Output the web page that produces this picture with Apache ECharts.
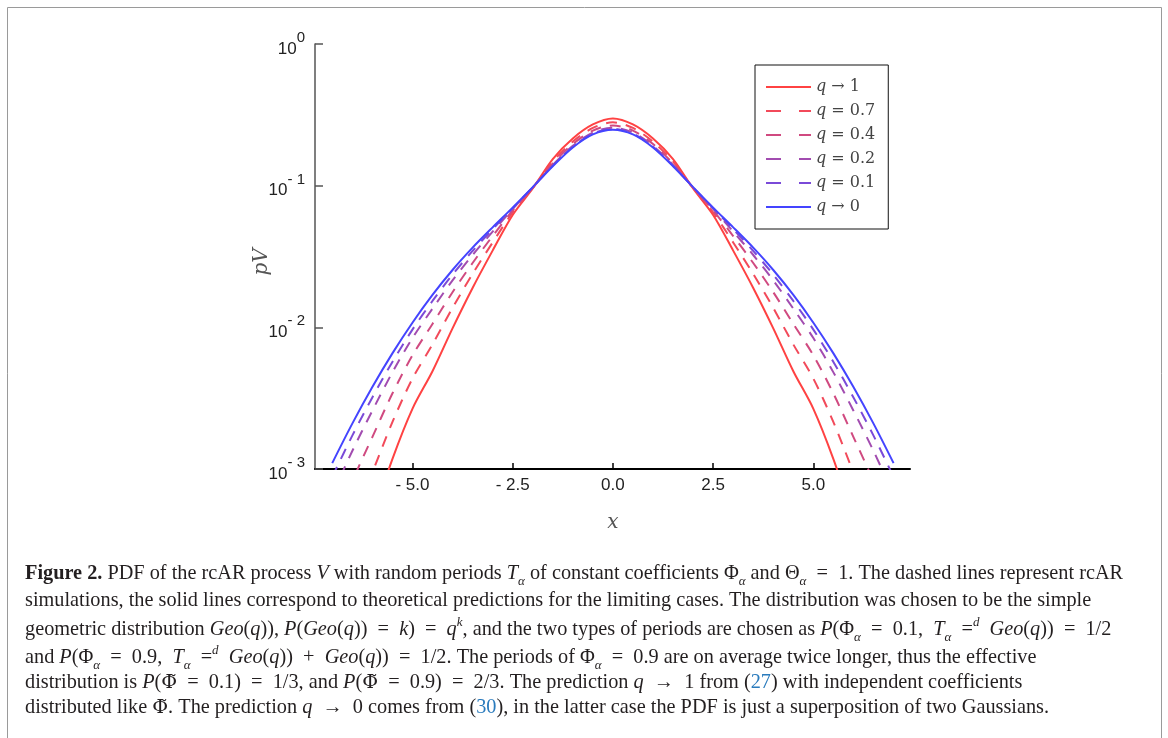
<!DOCTYPE html>
<html>
<head>
<meta charset="utf-8">
<script src="https://cdn.jsdelivr.net/npm/echarts@6/dist/echarts.min.js"></script>
<style>
  html, body { margin: 0; padding: 0; background: #fff; }
  #main { width: 1168px; height: 738px; }
</style>
</head>
<body>
<div id="main"></div>
<script>
// x grid of the PDF curves
const xs = [-7, -6.5, -6, -5.5, -5, -4.5, -4, -3.5, -3, -2.5, -2, -1.5, -1, -0.5, 0,
  0.5, 1, 1.5, 2, 2.5, 3, 3.5, 4, 4.5, 5, 5.5, 6, 6.5, 7];

// pV (log scale), one array per curve
const pdfQ1 = [0.000063, 0.000178, 0.000447, 0.001175, 0.00266, 0.0049, 0.00984, 0.01897, 0.0348, 0.0621, 0.0955, 0.1542, 0.2153, 0.2704, 0.2985,
  0.2704, 0.2153, 0.1542, 0.0955, 0.0621, 0.0348, 0.01897, 0.00984, 0.0049, 0.00266, 0.001175, 0.000447, 0.000178, 0.000063];
const pdfQ07 = [0.000172, 0.000422, 0.000944, 0.002143, 0.004345, 0.00757, 0.01371, 0.02382, 0.0397, 0.0647, 0.0962, 0.1479, 0.2046, 0.2556, 0.2799,
  0.2556, 0.2046, 0.1479, 0.0962, 0.0647, 0.0397, 0.02382, 0.01371, 0.00757, 0.004345, 0.002143, 0.000944, 0.000422, 0.000172];
const pdfQ04 = [0.000372, 0.00082, 0.00168, 0.00341, 0.00634, 0.01057, 0.0177, 0.02844, 0.0441, 0.0668, 0.0968, 0.1432, 0.1968, 0.2449, 0.2661,
  0.2449, 0.1968, 0.1432, 0.0968, 0.0668, 0.0441, 0.02844, 0.0177, 0.01057, 0.00634, 0.00341, 0.00168, 0.00082, 0.000372];
const pdfQ02 = [0.000659, 0.00134, 0.00258, 0.00481, 0.0084, 0.01355, 0.02143, 0.0324, 0.0474, 0.0685, 0.0971, 0.14, 0.191, 0.2371, 0.2564,
  0.2371, 0.191, 0.14, 0.0971, 0.0685, 0.0474, 0.0324, 0.02143, 0.01355, 0.0084, 0.00481, 0.00258, 0.00134, 0.000659];
const pdfQ01 = [0.00088, 0.00172, 0.0032, 0.0057, 0.00964, 0.01535, 0.02355, 0.0346, 0.0493, 0.0693, 0.0973, 0.1384, 0.1884, 0.2333, 0.2518,
  0.2333, 0.1884, 0.1384, 0.0973, 0.0693, 0.0493, 0.0346, 0.02355, 0.01535, 0.00964, 0.0057, 0.0032, 0.00172, 0.00088];
const pdfQ0 = [0.0011, 0.00209, 0.00379, 0.00655, 0.01078, 0.01694, 0.0254, 0.0365, 0.0508, 0.07, 0.0976, 0.1371, 0.1861, 0.2301, 0.2483,
  0.2301, 0.1861, 0.1371, 0.0976, 0.07, 0.0508, 0.0365, 0.0254, 0.01694, 0.01078, 0.00655, 0.00379, 0.00209, 0.0011];

const xTicks = [-5, -2.5, 0, 2.5, 5];

const curves = [
  { name: 'q → 1', data: pdfQ1, color: '#ff4242', dash: 'solid' },
  { name: 'q = 0.7', data: pdfQ07, color: '#f24a5a', dash: [11, 9] },
  { name: 'q = 0.4', data: pdfQ04, color: '#d04a80', dash: [11, 9] },
  { name: 'q = 0.2', data: pdfQ02, color: '#a24cb0', dash: [11, 9] },
  { name: 'q = 0.1', data: pdfQ01, color: '#7a4ad8', dash: [11, 9] },
  { name: 'q → 0', data: pdfQ0, color: '#4444ff', dash: 'solid' }
];

// caption, one entry per printed line ("_" = wide math space)
const captionLines = [
  '{b|Figure 2.} PDF of the rcAR process {i|V} with random periods {i|T}{s|α} of constant coefficients Φ{s|α} and Θ{s|α}_=_1. The dashed lines represent rcAR',
  'simulations, the solid lines correspond to theoretical predictions for the limiting cases. The distribution was chosen to be the simple',
  'geometric distribution {i|Geo}({i|q})), {i|P}({i|Geo}({i|q}))_=_{i|k})_=_{i|q}{p|k}, and the two types of periods are chosen as {i|P}(Φ{s|α}_=_0.1,_{i|T}{s|α}_={p|d}_{i|Geo}({i|q}))_=_1/2',
  'and {i|P}(Φ{s|α}_=_0.9,_{i|T}{s|α}_={p|d}_{i|Geo}({i|q}))_+_{i|Geo}({i|q}))_=_1/2. The periods of Φ{s|α}_=_0.9 are on average twice longer, thus the effective',
  'distribution is {i|P}({t|Φ̃}_=_0.1)_=_1/3, and {i|P}({t|Φ̃}_=_0.9)_=_2/3. The prediction {i|q}_→_1 from ({l|27}) with independent coefficients',
  'distributed like {t|Φ̃}. The prediction {i|q}_→_0 comes from ({l|30}), in the latter case the PDF is just a superposition of two Gaussians.'
];
const captionY = [574, 601, 630, 658, 683, 708];

const serif = '"Liberation Serif", "DejaVu Serif", serif';
const capSize = 20.3;
const capInk = '#231f20';
const captionRich = {
  b: { fontFamily: serif, fontSize: capSize, fontWeight: 'bold', fill: capInk },
  i: { fontFamily: serif, fontSize: capSize, fontStyle: 'italic', fill: capInk },
  s: { fontFamily: serif, fontSize: 13, fontStyle: 'italic', fill: capInk, lineHeight: 17, verticalAlign: 'bottom' },
  p: { fontFamily: serif, fontSize: 13, fontStyle: 'italic', fill: capInk, lineHeight: 14, verticalAlign: 'top' },
  t: { fontFamily: '"DejaVu Serif", serif', fontSize: capSize - 1, fill: capInk },
  l: { fontFamily: serif, fontSize: capSize, fill: '#2a7bbd' }
};

const sans = '"Liberation Sans", Arial, sans-serif';

const chart = echarts.init(document.getElementById('main'));

chart.setOption({
  animation: false,
  backgroundColor: '#fff',
  grid: { left: 315, right: 258, top: 44, bottom: 269 },
  xAxis: {
    type: 'value',
    min: -7.43,
    max: 7.41,
    splitLine: { show: false },
    axisLine: { show: true, onZero: false, lineStyle: { color: '#000', width: 2 } },
    axisTick: { show: true, inside: true, length: 6, customValues: xTicks, lineStyle: { color: '#000', width: 1.5 } },
    axisLabel: {
      customValues: xTicks,
      margin: 8,
      fontFamily: sans,
      fontSize: 17,
      color: '#222',
      formatter: v => (v < 0 ? '- ' + Math.abs(v).toFixed(1) : v.toFixed(1))
    }
  },
  yAxis: {
    type: 'log',
    logBase: 10,
    min: 0.001,
    max: 1,
    splitLine: { show: false },
    minorTick: { show: false },
    axisLine: { show: true, onZero: false, lineStyle: { color: '#555', width: 1.5 } },
    axisTick: { show: true, inside: true, length: 8, lineStyle: { color: '#555', width: 1.5 } },
    axisLabel: {
      margin: 10,
      formatter: v => {
        const e = Math.round(Math.log10(v));
        return '{h|\u200b}{b|10}{s|' + (e < 0 ? '- ' + (-e) : e) + '}';
      },
      rich: {
        h: { fontSize: 4, lineHeight: 27 },
        b: { fontFamily: sans, fontSize: 17, color: '#222', lineHeight: 18, verticalAlign: 'bottom' },
        s: { fontFamily: sans, fontSize: 15, color: '#222', lineHeight: 16, verticalAlign: 'top' }
      }
    }
  },
  legend: {
    orient: 'vertical',
    left: 755,
    top: 65,
    padding: [13, 13, 13, 10],
    borderColor: '#111',
    borderWidth: 1,
    itemWidth: 45,
    itemHeight: 12,
    itemGap: 6,
    itemStyle: { opacity: 0 },
    textStyle: {
      fontFamily: '"DejaVu Serif", serif',
      fontSize: 16,
      lineHeight: 18,
      color: '#444',
      rich: { i: { fontFamily: '"DejaVu Serif", serif', fontStyle: 'italic', fontSize: 16, lineHeight: 18, color: '#444' } }
    },
    formatter: n => n.replace(/^q/, '{i|q}'),
    data: curves.map(c => (c.dash === 'solid' ? { name: c.name } : { name: c.name, lineStyle: { type: [15, 18] } }))
  },
  series: curves.map(c => ({
    name: c.name,
    type: 'line',
    data: xs.map((x, i) => [x, c.data[i]]),
    symbol: 'none',
    smooth: 0.3,
    clip: true,
    lineStyle: { color: c.color, width: 2, type: c.dash },
    itemStyle: { color: c.color },
    emphasis: { disabled: true }
  })),
  graphic: [
    {
      type: 'rect', silent: true,
      shape: { x: 7.5, y: 7.5, width: 1154, height: 760 },
      style: { fill: 'none', stroke: '#9a9a9a', lineWidth: 1 }
    },
    {
      type: 'text', x: 613, y: 523,
      style: { text: 'x', fontFamily: '"DejaVu Serif", serif', fontStyle: 'italic', fontSize: 20, fill: '#555', align: 'center', verticalAlign: 'middle' }
    },
    {
      type: 'text', x: 262, y: 262, rotation: Math.PI / 2,
      style: { text: 'pV', fontFamily: '"DejaVu Serif", serif', fontStyle: 'italic', fontSize: 20, fill: '#555', align: 'center', verticalAlign: 'middle' }
    }
  ].concat(captionLines.map((t, k) => ({
    type: 'text', x: 25, y: captionY[k],
    style: {
      text: t.replace(/_/g, '\u2002'),
      fontFamily: serif,
      fontSize: capSize,
      fill: capInk,
      lineHeight: 28,
      align: 'left',
      verticalAlign: 'middle',
      rich: captionRich
    }
  })))
});
</script>
</body>
</html>
